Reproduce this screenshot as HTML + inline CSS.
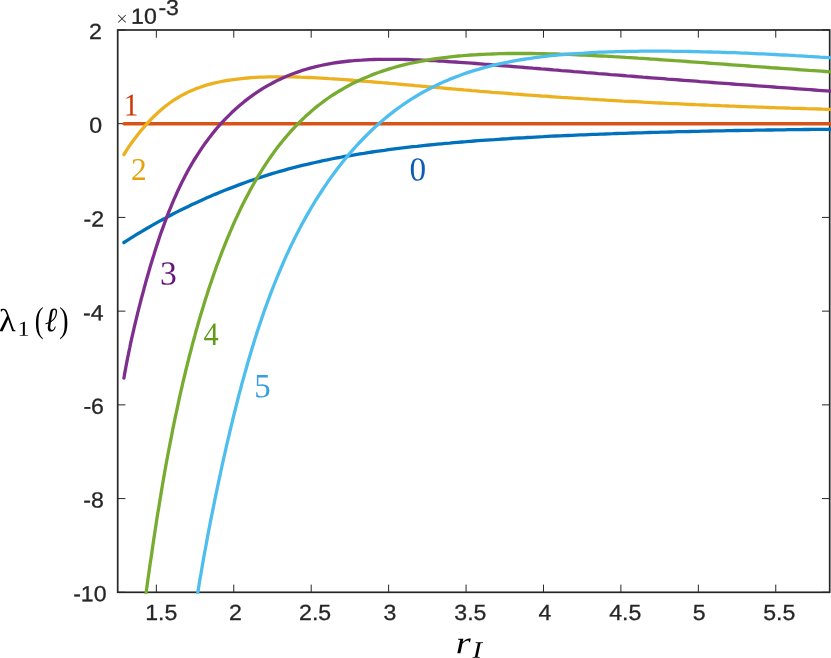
<!DOCTYPE html>
<html><head><meta charset="utf-8"><title>plot</title>
<style>
html,body{margin:0;padding:0;background:#fff;}
body{width:831px;height:658px;overflow:hidden;}
svg{display:block;}
.tk text{font-family:"Liberation Sans",sans-serif;fill:#262626;stroke:#262626;stroke-width:0.3px;}
.m{font-family:"Liberation Serif",serif;}
</style></head><body>
<svg width="831" height="658" viewBox="0 0 831 658">
<rect width="831" height="658" fill="#fff"/>
<defs><clipPath id="c"><rect x="117.7" y="30.0" width="714.3" height="563.6999999999999"/></clipPath></defs>
<g stroke="#262626" stroke-width="1.0" fill="none"><path d="M156.35 592.3 V584.5999999999999 M156.35 30.0 V37.7"/><path d="M233.77 592.3 V584.5999999999999 M233.77 30.0 V37.7"/><path d="M311.20 592.3 V584.5999999999999 M311.20 30.0 V37.7"/><path d="M388.62 592.3 V584.5999999999999 M388.62 30.0 V37.7"/><path d="M466.05 592.3 V584.5999999999999 M466.05 30.0 V37.7"/><path d="M543.48 592.3 V584.5999999999999 M543.48 30.0 V37.7"/><path d="M620.90 592.3 V584.5999999999999 M620.90 30.0 V37.7"/><path d="M698.33 592.3 V584.5999999999999 M698.33 30.0 V37.7"/><path d="M775.75 592.3 V584.5999999999999 M775.75 30.0 V37.7"/><path d="M117.7 29.98 H125.4 M829.7 29.98 H822.0"/><path d="M117.7 123.70 H125.4 M829.7 123.70 H822.0"/><path d="M117.7 217.42 H125.4 M829.7 217.42 H822.0"/><path d="M117.7 311.14 H125.4 M829.7 311.14 H822.0"/><path d="M117.7 404.86 H125.4 M829.7 404.86 H822.0"/><path d="M117.7 498.58 H125.4 M829.7 498.58 H822.0"/><path d="M117.7 592.30 H125.4 M829.7 592.30 H822.0"/></g>
<rect x="117.7" y="30.0" width="712.0" height="562.3" fill="none" stroke="#262626" stroke-width="1.7"/>
<g clip-path="url(#c)" fill="none" stroke-width="3.3" stroke-linejoin="round" stroke-linecap="round">
<path d="M123.9 242.5 L127.3 240.3 L130.8 238.1 L134.4 235.9 L137.9 233.7 L141.5 231.6 L145.0 229.5 L148.5 227.5 L152.1 225.4 L155.6 223.4 L159.2 221.4 L162.7 219.5 L166.3 217.6 L169.8 215.7 L173.4 213.8 L177.1 211.9 L180.8 210.0 L184.5 208.2 L188.3 206.4 L192.0 204.6 L195.7 202.9 L199.4 201.2 L203.2 199.5 L206.9 197.8 L210.6 196.2 L214.3 194.6 L218.1 193.1 L221.8 191.5 L225.5 190.0 L229.2 188.6 L233.1 187.1 L237.0 185.6 L240.9 184.1 L244.8 182.7 L248.7 181.3 L252.6 180.0 L256.5 178.7 L260.4 177.4 L264.3 176.1 L268.2 174.9 L272.1 173.7 L276.0 172.5 L279.9 171.4 L283.8 170.3 L287.7 169.2 L291.6 168.2 L295.5 167.2 L299.4 166.2 L303.3 165.2 L307.2 164.3 L311.1 163.4 L315.1 162.5 L319.1 161.6 L323.2 160.7 L327.3 159.9 L331.4 159.0 L335.4 158.2 L339.5 157.5 L343.6 156.7 L347.7 156.0 L351.8 155.3 L355.8 154.6 L359.9 153.9 L364.0 153.3 L368.1 152.6 L372.1 152.0 L376.2 151.4 L380.3 150.8 L384.4 150.3 L388.5 149.7 L392.5 149.2 L396.6 148.7 L400.7 148.2 L404.8 147.7 L408.9 147.2 L412.9 146.7 L417.0 146.3 L421.1 145.8 L425.2 145.4 L429.2 145.0 L433.3 144.6 L437.4 144.2 L441.5 143.8 L445.6 143.4 L449.6 143.1 L453.7 142.7 L457.8 142.3 L461.9 142.0 L465.9 141.7 L470.0 141.3 L474.1 141.0 L478.2 140.7 L482.3 140.4 L486.3 140.1 L490.4 139.8 L494.5 139.6 L498.6 139.3 L502.7 139.0 L506.7 138.8 L510.8 138.5 L514.9 138.2 L519.0 138.0 L523.0 137.8 L527.1 137.5 L531.2 137.3 L535.3 137.1 L539.4 136.9 L543.4 136.7 L547.5 136.4 L551.6 136.2 L555.7 136.0 L559.8 135.9 L563.8 135.7 L567.9 135.5 L572.0 135.3 L576.1 135.1 L580.1 134.9 L584.2 134.8 L588.3 134.6 L592.4 134.4 L596.5 134.3 L600.5 134.1 L604.6 134.0 L608.7 133.8 L612.8 133.7 L616.8 133.5 L620.9 133.4 L625.0 133.3 L629.1 133.1 L633.2 133.0 L637.2 132.9 L641.3 132.8 L645.4 132.6 L649.5 132.5 L653.6 132.4 L657.6 132.3 L661.7 132.2 L665.8 132.1 L669.9 132.0 L673.9 131.9 L678.0 131.7 L682.1 131.6 L686.2 131.6 L690.3 131.5 L694.3 131.4 L698.4 131.3 L702.5 131.2 L706.6 131.1 L710.6 131.0 L714.7 130.9 L718.8 130.8 L722.9 130.8 L727.0 130.7 L731.0 130.6 L735.1 130.5 L739.2 130.5 L743.3 130.4 L747.4 130.3 L751.4 130.3 L755.5 130.2 L759.6 130.1 L763.7 130.1 L767.7 130.0 L771.8 130.0 L775.9 129.9 L780.0 129.8 L784.1 129.8 L788.1 129.7 L792.2 129.7 L796.3 129.6 L800.4 129.6 L804.5 129.5 L808.5 129.5 L812.6 129.4 L816.7 129.4 L820.8 129.4 L824.8 129.3 L828.9 129.3 L833.0 129.2 L833.0 129.2" stroke="#0072BD"/>
<path d="M123.9 123.75 L833 123.75" stroke="#D95319"/>
<path d="M123.9 154.7 L126.0 151.2 L128.3 147.6 L130.6 144.2 L133.1 140.8 L135.6 137.4 L138.1 134.2 L140.7 130.9 L143.4 127.8 L146.1 124.7 L148.9 121.6 L151.7 118.6 L154.6 115.8 L157.6 113.0 L160.6 110.3 L163.8 107.6 L167.0 105.0 L170.4 102.5 L173.7 100.2 L177.3 98.0 L180.8 95.9 L184.4 94.0 L188.1 92.1 L191.8 90.5 L195.5 88.9 L199.4 87.5 L203.3 86.1 L207.2 84.9 L211.1 83.9 L215.0 82.9 L219.1 82.0 L223.2 81.2 L227.3 80.5 L231.4 79.8 L235.4 79.3 L239.5 78.8 L243.6 78.3 L247.7 78.0 L251.7 77.7 L255.8 77.4 L259.9 77.2 L264.0 77.1 L268.1 76.9 L272.1 76.9 L276.2 76.8 L280.3 76.8 L284.4 76.8 L288.5 76.9 L292.5 76.9 L296.6 77.0 L300.7 77.2 L304.8 77.3 L308.8 77.5 L312.9 77.7 L317.0 77.9 L321.1 78.1 L325.2 78.3 L329.2 78.6 L333.3 78.8 L337.4 79.1 L341.5 79.4 L345.5 79.7 L349.6 80.0 L353.7 80.3 L357.8 80.6 L361.9 81.0 L365.9 81.3 L370.0 81.6 L374.1 82.0 L378.2 82.3 L382.3 82.7 L386.3 83.0 L390.4 83.4 L394.5 83.7 L398.6 84.1 L402.6 84.5 L406.7 84.8 L410.8 85.2 L414.9 85.6 L419.0 85.9 L423.0 86.3 L427.1 86.7 L431.2 87.0 L435.3 87.4 L439.4 87.7 L443.4 88.1 L447.5 88.5 L451.6 88.8 L455.7 89.2 L459.7 89.5 L463.8 89.9 L467.9 90.2 L472.0 90.6 L476.1 90.9 L480.1 91.3 L484.2 91.6 L488.3 91.9 L492.4 92.3 L496.4 92.6 L500.5 92.9 L504.6 93.2 L508.7 93.5 L512.8 93.9 L516.8 94.2 L520.9 94.5 L525.0 94.8 L529.1 95.1 L533.2 95.4 L537.2 95.7 L541.3 96.0 L545.4 96.2 L549.5 96.5 L553.5 96.8 L557.6 97.1 L561.7 97.4 L565.8 97.6 L569.9 97.9 L573.9 98.2 L578.0 98.4 L582.1 98.7 L586.2 98.9 L590.2 99.2 L594.3 99.4 L598.4 99.7 L602.5 99.9 L606.6 100.2 L610.6 100.4 L614.7 100.6 L618.8 100.8 L622.9 101.1 L627.0 101.3 L631.0 101.5 L635.1 101.7 L639.2 101.9 L643.3 102.2 L647.3 102.4 L651.4 102.6 L655.5 102.8 L659.6 103.0 L663.7 103.2 L667.7 103.4 L671.8 103.6 L675.9 103.7 L680.0 103.9 L684.1 104.1 L688.1 104.3 L692.2 104.5 L696.3 104.7 L700.4 104.8 L704.4 105.0 L708.5 105.2 L712.6 105.3 L716.7 105.5 L720.8 105.7 L724.8 105.8 L728.9 106.0 L733.0 106.1 L737.1 106.3 L741.1 106.5 L745.2 106.6 L749.3 106.8 L753.4 106.9 L757.5 107.1 L761.5 107.2 L765.6 107.3 L769.7 107.5 L773.8 107.6 L777.9 107.8 L781.9 107.9 L786.0 108.0 L790.1 108.2 L794.2 108.3 L798.2 108.4 L802.3 108.5 L806.4 108.7 L810.5 108.8 L814.6 108.9 L818.6 109.0 L822.7 109.2 L826.8 109.3 L830.9 109.4 L833.0 109.4" stroke="#EDB120"/>
<path d="M123.9 378.2 L124.6 374.1 L125.3 370.1 L126.2 365.3 L127.1 360.6 L128.0 356.1 L128.9 351.7 L129.8 347.5 L130.6 343.3 L131.5 339.3 L132.4 335.3 L133.5 330.6 L134.5 326.1 L135.6 321.6 L136.7 317.2 L137.7 312.9 L138.8 308.6 L139.9 304.4 L140.9 300.3 L142.0 296.2 L143.1 292.2 L144.1 288.3 L145.2 284.4 L146.4 279.9 L147.7 275.5 L148.9 271.2 L150.1 267.0 L151.4 262.8 L152.6 258.7 L153.9 254.7 L155.1 250.7 L156.3 246.9 L157.6 243.1 L159.0 238.8 L160.4 234.6 L161.8 230.6 L163.3 226.6 L164.7 222.7 L166.1 218.9 L167.7 214.7 L169.3 210.7 L170.9 206.8 L172.5 202.9 L174.1 199.2 L175.9 195.2 L177.6 191.2 L179.4 187.5 L181.2 183.8 L183.1 179.9 L185.1 176.1 L187.0 172.4 L189.0 168.8 L191.1 165.1 L193.2 161.5 L195.4 158.0 L197.7 154.3 L200.0 150.8 L202.3 147.4 L204.6 144.1 L207.1 140.7 L209.5 137.4 L212.0 134.2 L214.7 130.9 L217.3 127.8 L220.0 124.7 L222.8 121.6 L225.7 118.6 L228.5 115.8 L231.5 112.8 L234.5 110.0 L237.6 107.3 L240.8 104.5 L243.9 101.9 L247.1 99.4 L250.5 96.9 L253.9 94.4 L257.2 92.1 L260.6 89.9 L264.2 87.7 L267.7 85.6 L271.3 83.7 L274.8 81.8 L278.5 79.9 L282.2 78.2 L286.0 76.5 L289.7 75.0 L293.6 73.5 L297.5 72.1 L301.4 70.7 L305.3 69.5 L309.2 68.4 L313.1 67.3 L317.0 66.4 L320.9 65.5 L325.0 64.6 L329.1 63.9 L333.1 63.2 L337.2 62.5 L341.3 62.0 L345.4 61.5 L349.5 61.0 L353.5 60.7 L357.6 60.3 L361.7 60.1 L365.8 59.8 L369.8 59.6 L373.9 59.5 L378.0 59.4 L382.1 59.3 L386.2 59.3 L390.2 59.3 L394.3 59.3 L398.4 59.3 L402.5 59.4 L406.5 59.5 L410.6 59.6 L414.7 59.8 L418.8 59.9 L422.9 60.1 L426.9 60.3 L431.0 60.5 L435.1 60.7 L439.2 61.0 L443.3 61.2 L447.3 61.5 L451.4 61.8 L455.5 62.0 L459.6 62.3 L463.6 62.6 L467.7 62.9 L471.8 63.2 L475.9 63.5 L480.0 63.8 L484.0 64.2 L488.1 64.5 L492.2 64.8 L496.3 65.1 L500.3 65.5 L504.4 65.8 L508.5 66.1 L512.6 66.5 L516.7 66.8 L520.7 67.1 L524.8 67.5 L528.9 67.8 L533.0 68.2 L537.1 68.5 L541.1 68.9 L545.2 69.2 L549.3 69.5 L553.4 69.9 L557.4 70.2 L561.5 70.6 L565.6 70.9 L569.7 71.2 L573.8 71.6 L577.8 71.9 L581.9 72.2 L586.0 72.6 L590.1 72.9 L594.2 73.2 L598.2 73.6 L602.3 73.9 L606.4 74.2 L610.5 74.6 L614.5 74.9 L618.6 75.2 L622.7 75.5 L626.8 75.9 L630.9 76.2 L634.9 76.5 L639.0 76.8 L643.1 77.2 L647.2 77.5 L651.2 77.8 L655.3 78.1 L659.4 78.4 L663.5 78.7 L667.6 79.1 L671.6 79.4 L675.7 79.7 L679.8 80.0 L683.9 80.3 L688.0 80.6 L692.0 80.9 L696.1 81.2 L700.2 81.6 L704.3 81.9 L708.3 82.2 L712.4 82.5 L716.5 82.8 L720.6 83.1 L724.7 83.4 L728.7 83.7 L732.8 84.0 L736.9 84.3 L741.0 84.6 L745.0 84.9 L749.1 85.2 L753.2 85.5 L757.3 85.8 L761.4 86.1 L765.4 86.4 L769.5 86.7 L773.6 87.0 L777.7 87.3 L781.8 87.6 L785.8 87.9 L789.9 88.2 L794.0 88.5 L798.1 88.8 L802.1 89.1 L806.2 89.4 L810.3 89.7 L814.4 90.0 L818.5 90.3 L822.5 90.6 L826.6 90.9 L830.7 91.2 L833.0 91.4" stroke="#7E2F8E"/>
<path d="M140.2 635.8 L140.9 630.6 L141.6 625.4 L142.3 620.1 L143.1 614.9 L143.8 609.7 L144.5 604.5 L145.2 599.3 L145.9 594.2 L146.6 589.1 L147.3 584.0 L148.0 578.9 L148.7 573.9 L149.4 568.9 L150.1 563.9 L150.9 559.0 L151.6 554.2 L152.3 549.3 L153.0 544.6 L153.7 539.8 L154.4 535.1 L155.1 530.5 L155.8 525.9 L156.5 521.3 L157.2 516.8 L157.9 512.4 L158.7 508.0 L159.4 503.6 L160.1 499.3 L160.8 495.0 L161.5 490.8 L162.2 486.6 L162.9 482.5 L163.6 478.4 L164.3 474.3 L165.0 470.3 L165.7 466.4 L166.6 461.5 L167.5 456.7 L168.4 451.9 L169.3 447.3 L170.2 442.6 L171.1 438.1 L172.0 433.6 L172.8 429.1 L173.7 424.8 L174.6 420.4 L175.5 416.2 L176.4 412.0 L177.3 407.8 L178.2 403.7 L179.0 399.7 L179.9 395.7 L180.8 391.7 L181.9 387.1 L182.9 382.5 L184.0 378.0 L185.1 373.5 L186.1 369.1 L187.2 364.8 L188.3 360.5 L189.3 356.3 L190.4 352.2 L191.5 348.1 L192.5 344.1 L193.6 340.1 L194.7 336.2 L195.7 332.3 L197.0 327.9 L198.2 323.5 L199.4 319.2 L200.7 315.0 L201.9 310.9 L203.2 306.8 L204.4 302.7 L205.6 298.8 L206.9 294.9 L208.1 291.0 L209.5 286.7 L211.0 282.5 L212.4 278.3 L213.8 274.2 L215.2 270.2 L216.6 266.2 L218.1 262.3 L219.5 258.5 L220.9 254.8 L222.5 250.6 L224.1 246.6 L225.7 242.6 L227.3 238.7 L228.9 234.8 L230.5 231.1 L232.1 227.4 L233.8 223.4 L235.6 219.4 L237.4 215.6 L239.2 211.8 L240.9 208.1 L242.7 204.5 L244.7 200.6 L246.6 196.9 L248.6 193.2 L250.5 189.5 L252.5 186.0 L254.6 182.3 L256.7 178.6 L258.8 175.1 L261.0 171.6 L263.3 167.9 L265.6 164.4 L267.9 160.9 L270.2 157.5 L272.7 154.0 L275.2 150.6 L277.6 147.3 L280.1 144.1 L282.8 140.8 L285.4 137.6 L288.1 134.5 L290.8 131.4 L293.6 128.3 L296.4 125.3 L299.3 122.4 L302.3 119.5 L305.3 116.6 L308.3 113.9 L311.3 111.2 L314.5 108.5 L317.7 105.9 L320.9 103.5 L324.3 100.9 L327.6 98.5 L331.0 96.2 L334.4 94.0 L337.9 91.8 L341.5 89.7 L345.0 87.6 L348.6 85.7 L352.1 83.8 L355.8 82.0 L359.6 80.2 L363.3 78.5 L367.0 77.0 L370.7 75.4 L374.6 73.9 L378.5 72.5 L382.4 71.1 L386.3 69.9 L390.2 68.6 L394.1 67.5 L398.0 66.4 L401.9 65.4 L405.8 64.4 L409.7 63.5 L413.8 62.6 L417.9 61.8 L422.0 61.0 L426.1 60.3 L430.1 59.6 L434.2 59.0 L438.3 58.4 L442.4 57.8 L446.4 57.3 L450.5 56.8 L454.6 56.4 L458.7 56.0 L462.8 55.7 L466.8 55.3 L470.9 55.0 L475.0 54.8 L479.1 54.5 L483.1 54.3 L487.2 54.1 L491.3 54.0 L495.4 53.8 L499.5 53.7 L503.5 53.6 L507.6 53.5 L511.7 53.5 L515.8 53.5 L519.9 53.5 L523.9 53.5 L528.0 53.5 L532.1 53.5 L536.2 53.6 L540.2 53.6 L544.3 53.7 L548.4 53.8 L552.5 53.9 L556.6 54.0 L560.6 54.2 L564.7 54.3 L568.8 54.4 L572.9 54.6 L577.0 54.8 L581.0 55.0 L585.1 55.1 L589.2 55.3 L593.3 55.5 L597.3 55.8 L601.4 56.0 L605.5 56.2 L609.6 56.4 L613.7 56.7 L617.7 56.9 L621.8 57.1 L625.9 57.4 L630.0 57.6 L634.0 57.9 L638.1 58.2 L642.2 58.4 L646.3 58.7 L650.4 59.0 L654.4 59.2 L658.5 59.5 L662.6 59.8 L666.7 60.1 L670.8 60.4 L674.8 60.7 L678.9 60.9 L683.0 61.2 L687.1 61.5 L691.1 61.8 L695.2 62.1 L699.3 62.4 L703.4 62.7 L707.5 63.0 L711.5 63.3 L715.6 63.6 L719.7 63.9 L723.8 64.2 L727.8 64.5 L731.9 64.8 L736.0 65.1 L740.1 65.4 L744.2 65.7 L748.2 66.0 L752.3 66.3 L756.4 66.6 L760.5 66.9 L764.6 67.2 L768.6 67.5 L772.7 67.8 L776.8 68.0 L780.9 68.3 L784.9 68.6 L789.0 68.9 L793.1 69.2 L797.2 69.5 L801.3 69.8 L805.3 70.1 L809.4 70.4 L813.5 70.6 L817.6 70.9 L821.7 71.2 L825.7 71.5 L829.8 71.8 L833.0 72.0" stroke="#77AC30"/>
<path d="M191.8 634.1 L192.3 630.1 L193.1 624.8 L193.8 619.7 L194.5 614.7 L195.2 609.8 L195.9 605.1 L196.6 600.4 L197.3 595.8 L198.0 591.3 L198.7 586.9 L199.4 582.6 L200.1 578.3 L200.9 574.1 L201.6 569.9 L202.3 565.8 L203.0 561.8 L203.7 557.8 L204.4 553.8 L205.3 549.0 L206.2 544.2 L207.1 539.4 L207.9 534.7 L208.8 530.1 L209.7 525.5 L210.6 520.9 L211.5 516.4 L212.4 512.0 L213.3 507.6 L214.2 503.2 L215.0 498.9 L215.9 494.6 L216.8 490.3 L217.7 486.1 L218.6 481.9 L219.5 477.7 L220.4 473.6 L221.2 469.5 L222.1 465.5 L223.0 461.5 L223.9 457.5 L224.8 453.5 L225.7 449.6 L226.7 445.0 L227.8 440.4 L228.9 435.8 L229.9 431.3 L231.0 426.8 L232.1 422.4 L233.1 418.1 L234.2 413.7 L235.3 409.5 L236.3 405.3 L237.4 401.1 L238.4 397.0 L239.5 392.9 L240.6 388.9 L241.6 384.9 L242.7 380.9 L243.8 377.1 L245.0 372.6 L246.3 368.2 L247.5 363.8 L248.7 359.6 L250.0 355.3 L251.2 351.2 L252.5 347.1 L253.7 343.1 L254.9 339.1 L256.2 335.2 L257.4 331.3 L258.8 327.0 L260.3 322.7 L261.7 318.5 L263.1 314.4 L264.5 310.3 L265.9 306.3 L267.4 302.4 L268.8 298.6 L270.2 294.8 L271.8 290.6 L273.4 286.5 L275.0 282.5 L276.6 278.5 L278.2 274.6 L279.8 270.8 L281.4 267.1 L283.0 263.4 L284.7 259.4 L286.5 255.4 L288.3 251.6 L290.0 247.8 L291.8 244.1 L293.6 240.5 L295.5 236.6 L297.5 232.7 L299.4 229.0 L301.4 225.3 L303.3 221.7 L305.3 218.1 L307.4 214.4 L309.6 210.7 L311.7 207.0 L313.8 203.5 L315.9 200.0 L318.1 196.6 L320.4 193.0 L322.7 189.5 L325.0 186.1 L327.3 182.7 L329.6 179.4 L332.1 175.9 L334.6 172.5 L337.0 169.2 L339.5 166.0 L342.0 162.8 L344.7 159.5 L347.3 156.3 L350.0 153.2 L352.6 150.1 L355.3 147.1 L358.1 144.0 L361.0 141.0 L363.8 138.0 L366.7 135.2 L369.7 132.2 L372.7 129.3 L375.7 126.6 L378.7 123.8 L381.7 121.2 L384.9 118.5 L388.1 115.9 L391.3 113.4 L394.5 110.9 L397.9 108.4 L401.2 106.0 L404.6 103.6 L408.0 101.4 L411.3 99.2 L414.9 97.0 L418.4 94.9 L422.0 92.8 L425.5 90.9 L429.1 89.0 L432.8 87.1 L436.5 85.2 L440.2 83.5 L444.0 81.8 L447.7 80.2 L451.4 78.6 L455.1 77.2 L459.0 75.7 L462.9 74.3 L466.8 72.9 L470.7 71.6 L474.6 70.4 L478.5 69.3 L482.4 68.1 L486.3 67.1 L490.2 66.1 L494.1 65.1 L498.0 64.2 L502.1 63.3 L506.2 62.5 L510.3 61.7 L514.4 60.9 L518.4 60.2 L522.5 59.5 L526.6 58.9 L530.7 58.3 L534.7 57.7 L538.8 57.1 L542.9 56.6 L547.0 56.2 L551.1 55.7 L555.1 55.3 L559.2 54.9 L563.3 54.5 L567.4 54.2 L571.5 53.9 L575.5 53.6 L579.6 53.3 L583.7 53.1 L587.8 52.8 L591.8 52.6 L595.9 52.4 L600.0 52.2 L604.1 52.1 L608.2 51.9 L612.2 51.8 L616.3 51.7 L620.4 51.6 L624.5 51.5 L628.6 51.4 L632.6 51.3 L636.7 51.3 L640.8 51.2 L644.9 51.2 L648.9 51.2 L653.0 51.2 L657.1 51.2 L661.2 51.2 L665.3 51.2 L669.3 51.2 L673.4 51.3 L677.5 51.3 L681.6 51.4 L685.6 51.4 L689.7 51.5 L693.8 51.6 L697.9 51.7 L702.0 51.8 L706.0 51.9 L710.1 52.0 L714.2 52.1 L718.3 52.2 L722.4 52.3 L726.4 52.5 L730.5 52.6 L734.6 52.7 L738.7 52.9 L742.7 53.1 L746.8 53.2 L750.9 53.4 L755.0 53.6 L759.1 53.8 L763.1 53.9 L767.2 54.1 L771.3 54.3 L775.4 54.5 L779.4 54.8 L783.5 55.0 L787.6 55.2 L791.7 55.4 L795.8 55.7 L799.8 55.9 L803.9 56.1 L808.0 56.4 L812.1 56.6 L816.2 56.9 L820.2 57.2 L824.3 57.4 L828.4 57.7 L832.5 58.0 L833.0 58.0" stroke="#4DBEEE"/>
</g>
<g class="tk"><text transform="translate(145.15 620.10) scale(1.05 1) rotate(0.05)" font-size="22.0">1.5</text><text transform="translate(228.88 620.10) scale(1.05 1) rotate(0.05)" font-size="22.0">2</text><text transform="translate(299.10 620.10) scale(1.05 1) rotate(0.05)" font-size="22.0">2.5</text><text transform="translate(383.44 620.10) scale(1.05 1) rotate(0.05)" font-size="22.0">3</text><text transform="translate(454.29 620.10) scale(1.05 1) rotate(0.05)" font-size="22.0">3.5</text><text transform="translate(538.40 620.10) scale(1.05 1) rotate(0.05)" font-size="22.0">4</text><text transform="translate(609.21 620.10) scale(1.05 1) rotate(0.05)" font-size="22.0">4.5</text><text transform="translate(692.70 620.10) scale(1.05 1) rotate(0.05)" font-size="22.0">5</text><text transform="translate(763.27 620.10) scale(1.05 1) rotate(0.05)" font-size="22.0">5.5</text><text transform="translate(89.08 38.98) scale(1.05 1) rotate(0.05)" font-size="22.0">2</text><text transform="translate(89.23 132.70) scale(1.05 1) rotate(0.05)" font-size="22.0">0</text><text transform="translate(83.60 226.42) scale(1.05 1) rotate(0.05)" font-size="22.0">-2</text><text transform="translate(82.96 320.14) scale(1.05 1) rotate(0.05)" font-size="22.0">-4</text><text transform="translate(83.42 413.86) scale(1.05 1) rotate(0.05)" font-size="22.0">-6</text><text transform="translate(83.22 507.58) scale(1.05 1) rotate(0.05)" font-size="22.0">-8</text><text transform="translate(73.14 601.30) scale(1.05 1) rotate(0.05)" font-size="22.0">-10</text>
<text transform="translate(115.6 23.4) rotate(0.05)" style="font-family:'DejaVu Sans Light','DejaVu Sans',sans-serif;font-weight:200;font-size:15.5px;stroke:none">×</text><text transform="translate(131.07 23.70) scale(1.05 1) rotate(0.05)" font-size="22.0">10</text><text transform="translate(158.42 15.00) scale(1.05 1) rotate(0.05)" font-size="22.0">-3</text>
</g>
<g class="m">
<text transform="translate(409.58 180.62) scale(0.993 1) rotate(0.05)" font-size="33.49" fill="#0F5CB3">0</text>
<text transform="translate(123.63 115.55) scale(0.920 1) rotate(0.05)" font-size="31.81" fill="#CC3300">1</text>
<text transform="translate(130.97 179.95) scale(0.991 1) rotate(0.05)" font-size="31.72" fill="#E8A00A">2</text>
<text transform="translate(160.04 284.42) scale(1.000 1) rotate(0.05)" font-size="33.64" fill="#65157A">3</text>
<text transform="translate(203.46 345.05) scale(0.924 1) rotate(0.05)" font-size="32.82" fill="#5F9B19">4</text>
<text transform="translate(254.25 397.32) scale(0.964 1) rotate(0.05)" font-size="34.01" fill="#37A0E1">5</text>
<text transform="translate(-1.28 331.35) scale(1.093 1) rotate(0.05)" font-size="32.10" fill="#000">λ</text>
<text transform="translate(17.53 335.85) scale(1.138 1) rotate(0.05)" font-size="21.21" fill="#000">1</text>
<text transform="translate(34.69 331.82) scale(0.739 1) rotate(0.05)" font-size="35.84" fill="#000">(</text>
<text transform="translate(44.74 331.21) scale(0.871 1) rotate(0.05)" font-size="34.36" fill="#000" font-style="italic">ℓ</text>
<text transform="translate(59.35 331.82) scale(0.782 1) rotate(0.05)" font-size="35.84" fill="#000">)</text>
<text transform="translate(455.69 653.15) scale(1.223 1) rotate(0.05)" font-size="31.41" fill="#000" font-style="italic">r</text>
<text transform="translate(472.46 657.65) scale(1.210 1) rotate(0.05)" font-size="23.52" fill="#000" font-style="italic">I</text>
</g>
</svg>
</body></html>
